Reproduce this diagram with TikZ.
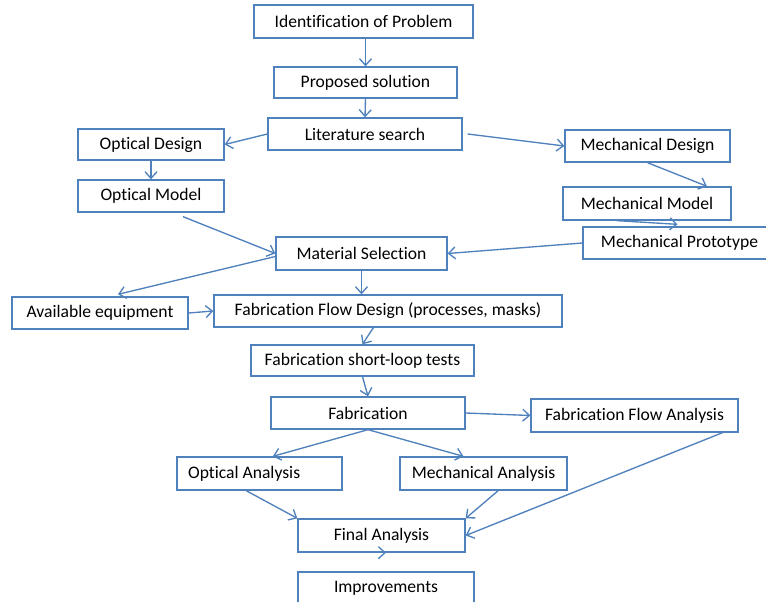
\documentclass[tikz,border=0pt]{standalone}
\usepackage{fontspec}
\setmainfont[Ligatures=NoCommon]{Carlito}
\usetikzlibrary{arrows.meta}
\definecolor{officeblue}{RGB}{79,129,189}
\tikzset{
  bx/.style={draw=officeblue, line width=1pt, rectangle, inner sep=0pt, fill=white,
    font=\fontsize{13.2}{15}\selectfont, text=black},
  arr/.style={draw=officeblue, line width=1pt, -{Straight Barb[length=5pt,width=9pt]}}
}
\newcommand\bx[6]{\node[bx, minimum width={(#4-#2)*0.75pt}, minimum height={(#5-#3)*0.75pt}]
  (#1) at ({(#2+#4)/2},{(#3+#5)/2}) {\raisebox{-0.8pt}{#6}};}
\begin{document}
\begin{tikzpicture}[x=0.75pt,y=-0.75pt]
\clip (0,0) rectangle (766,602);
\fill[white] (0,0) rectangle (766,602);
\bx{ident}{254}{5}{473}{38}{Identification of Problem}
\bx{prop}{274}{67}{457}{98}{Proposed solution}
\bx{lit}{268}{118}{462}{150}{Literature search}
\bx{odes}{78}{129}{224}{160}{Optical Design}
\bx{omod}{78}{180}{224}{212}{Optical Model}
\bx{mdes}{565}{130}{730}{162}{Mechanical Design}
\bx{mmod}{563}{187}{731}{220}{Mechanical Model}
\bx{mproto}{583}{227}{768}{259}{\hspace*{6pt}Mechanical Prototype}
\bx{mat}{276}{237}{447}{270}{Material Selection}
\bx{avail}{12}{297}{188}{329}{Available equipment}
\bx{ffd}{214}{295}{562}{327}{Fabrication Flow Design (processes, masks)}
\bx{slt}{251}{345}{474}{376}{Fabrication short-loop tests}
\bx{fab}{271}{397}{465}{429}{Fabrication}
\bx{ffa}{531}{399}{738}{432}{Fabrication Flow Analysis}
\bx{oan}{177}{457}{342}{490}{\hspace*{-23pt}Optical Analysis}
\bx{man}{400}{457}{567}{490}{Mechanical Analysis}
\bx{fin}{298}{519}{465}{552}{Final Analysis}
\bx{imp}{298}{572}{474}{605}{Improvements}

\draw[arr] (ident.south -| prop.north) -- (prop.north);
\draw[arr] (prop.south) -- (lit.north);
\draw[arr] (lit.west) -- (odes.east);
\draw[arr] ([xshift=3.75pt]lit.east) -- ([yshift=0pt]mdes.west);
\draw[arr] (odes.south) -- (omod.north);
\draw[arr] ([xshift=24pt,yshift=-3pt]omod.south) -- (mat.west);
\draw[arr] ([yshift=-2.25pt]mat.west) -- ([xshift=13.5pt,yshift=1.5pt]avail.north);
\draw[arr] (avail.east) -- (ffd.west);
\draw[arr] (mdes.south) -- ([xshift=45pt]mmod.north);
\draw[arr] ([xshift=-22.5pt]mmod.south) -- ([xshift=1.5pt,yshift=1.5pt]mproto.north);
\draw[arr] (mproto.west) -- (mat.east);
\draw[arr] (mat.south) -- (mat.south |- ffd.north);
\draw[arr] ([xshift=-11pt]ffd.south) -- (slt.north);
\draw[arr] (slt.south) -- (fab.north);
\draw[arr] (fab.east) -- (ffa.west);
\draw[arr] (fab.south) -- ([xshift=10pt]oan.north);
\draw[arr] (fab.south) -- ([xshift=-15pt]man.north);
\draw[arr] ([xshift=-10pt]oan.south) -- (fin.north west);
\draw[arr] ([xshift=11pt]man.south) -- (fin.north east);
\draw[arr] ([xshift=66pt]ffa.south) -- (fin.east);
\draw[arr] (fin.south) -- (fin.south -| imp.north);
\end{tikzpicture}
\end{document}
